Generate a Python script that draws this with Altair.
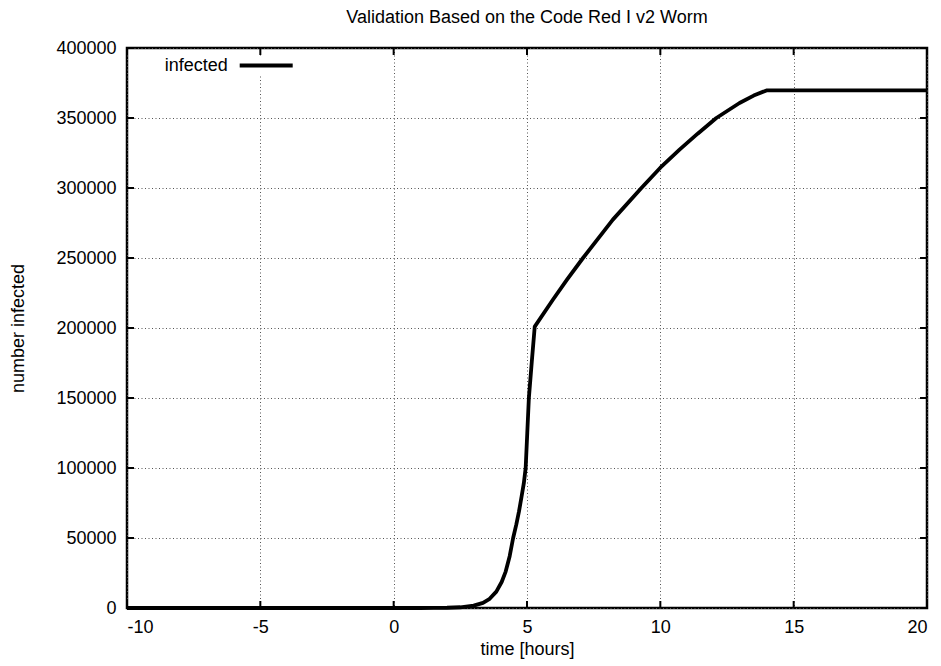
import altair as alt
import pandas as pd

# data
time_hours = [-10, 0, 1.0, 1.5, 2.0, 2.5, 3.0, 3.35, 3.6, 3.85, 4.05, 4.2, 4.35, 4.48,
              4.6, 4.7, 4.8, 4.88, 4.95, 5.01, 5.07, 5.18, 5.29, 5.97, 6.5, 7.10, 8.22,
              9.29, 10.0, 10.72, 11.4, 12.1, 12.97, 13.5, 13.98, 20]
infected = [0, 0, 15, 50, 165, 520, 1650, 3700, 6600, 11700, 18600, 26000, 37000, 50000,
            59700, 69000, 80000, 89000, 100000, 125000, 150000, 176000, 201000, 220200,
            234500, 250000, 277400, 300000, 314500, 327400, 338800, 350000, 360700,
            366000, 369700, 369700]
x_ticks = [-10, -5, 0, 5, 10, 15, 20]
y_ticks = [0, 50000, 100000, 150000, 200000, 250000, 300000, 350000, 400000]
legend_label = ["infected"]

FONT = "Liberation Sans"
W, H = 800, 560

df = pd.DataFrame({"time": time_hours, "infected": infected})
xdf = pd.DataFrame({"time": x_ticks})
ydf = pd.DataFrame({"infected": y_ticks})
ldf = pd.DataFrame({"label": legend_label})

xscale = alt.Scale(domain=[-10, 20], nice=False, zero=False)
yscale = alt.Scale(domain=[0, 400000], nice=False)

grid_style = dict(grid=True, gridColor="#555", gridDash=[1, 2.5], gridWidth=1, gridOpacity=1)

x_axis = alt.Axis(values=x_ticks, labelExpr="'' + datum.value", ticks=False,
                  domain=False, labelPadding=10, labelFontSize=18, labelFont=FONT,
                  labelColor="black", title="time [hours]", titleFontSize=18,
                  titleFont=FONT, titleFontWeight="normal", titleColor="black",
                  titleX=W / 2, titleY=41, titleBaseline="middle", titleAlign="center",
                  **grid_style)
y_axis = alt.Axis(values=y_ticks, labelExpr="'' + datum.value", ticks=False,
                  domain=False, labelPadding=11, labelFontSize=18, labelFont=FONT,
                  labelColor="black", title="number infected", titleFontSize=18,
                  titleFont=FONT, titleFontWeight="normal", titleColor="black",
                  titleX=-109, titleY=H / 2, titleAngle=270, titleBaseline="middle",
                  titleAlign="center", **grid_style)

line = alt.Chart(df).mark_line(color="black", strokeWidth=3.8, strokeJoin="round").encode(
    x=alt.X("time:Q", scale=xscale, axis=x_axis, title="time [hours]"),
    y=alt.Y("infected:Q", scale=yscale, axis=y_axis, title="number infected"),
)

# mirrored inward ticks
xt_bottom = alt.Chart(xdf).mark_rule(color="black", strokeWidth=2).encode(
    x=alt.X("time:Q", title="time [hours]"), y=alt.value(H), y2=alt.value(H - 7))
xt_top = alt.Chart(xdf).mark_rule(color="black", strokeWidth=2).encode(
    x=alt.X("time:Q", title="time [hours]"), y=alt.value(0), y2=alt.value(7))
yt_left = alt.Chart(ydf).mark_rule(color="black", strokeWidth=2).encode(
    y=alt.Y("infected:Q", title="number infected"), x=alt.value(0), x2=alt.value(7))
yt_right = alt.Chart(ydf).mark_rule(color="black", strokeWidth=2).encode(
    y=alt.Y("infected:Q", title="number infected"), x=alt.value(W), x2=alt.value(W - 7))

# legend (key) box
key_bg = alt.Chart(ldf).mark_rect(color="white").encode(
    x=alt.value(20), x2=alt.value(172), y=alt.value(8), y2=alt.value(27))
key_text = alt.Chart(ldf).mark_text(align="right", baseline="middle", fontSize=18,
                                     font=FONT, color="black").encode(
    text="label:N", x=alt.value(100.7), y=alt.value(18.4))
key_line = alt.Chart(ldf).mark_rule(color="black", strokeWidth=4).encode(
    x=alt.value(112.7), x2=alt.value(165.7), y=alt.value(17.4))

chart = alt.layer(line, key_bg, key_text, key_line, xt_bottom, xt_top, yt_left, yt_right).properties(
    width=W, height=H,
    background="white",
    autosize=alt.AutoSizeParams(type="none"),
    padding={"left": 127, "top": 48, "right": 14, "bottom": 58},
    title=alt.TitleParams("Validation Based on the Code Red I v2 Worm", fontSize=18,
                          font=FONT, fontWeight="normal", color="black", anchor="middle",
                          offset=12),
).configure_view(stroke="black", strokeWidth=2.5)

chart.save("out.html", embed_options={"renderer": "svg", "actions": False})
